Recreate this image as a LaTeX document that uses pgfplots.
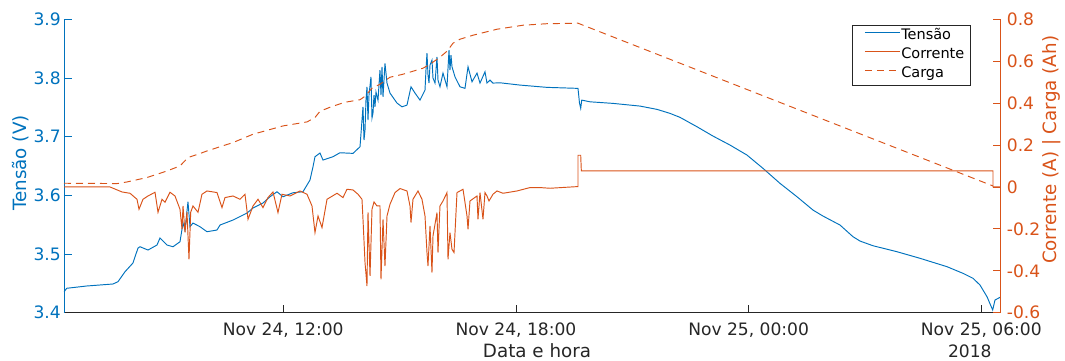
\documentclass[border=0pt]{standalone}
\usepackage{pgfplots}
\pgfplotsset{compat=1.18}
\usepackage{fontspec}
\setmainfont{DejaVu Sans}
\definecolor{mblue}{RGB}{0,114,189}
\definecolor{morange}{RGB}{217,83,25}
\definecolor{mgray}{RGB}{38,38,38}

% Tensão (V) versus hours since Nov 24, 00:00
\pgfplotstableread{
h V
6.35 3.4358
6.416 3.4416
6.931 3.4455
7.609 3.4489
7.738 3.4528
7.919 3.4698
8.125 3.4847
8.254 3.5102
8.306 3.5124
8.512 3.5068
8.744 3.5153
8.821 3.5272
9.002 3.5153
9.157 3.5124
9.337 3.5209
9.415 3.5528
9.466 3.5409
9.543 3.5891
9.595 3.5465
9.672 3.5528
9.853 3.5465
10.033 3.5380
10.291 3.5409
10.369 3.5494
10.704 3.5579
11.065 3.5698
11.220 3.5784
11.477 3.5869
11.658 3.5976
11.838 3.6061
11.993 3.5976
12.251 3.6044
12.509 3.6061
12.689 3.6261
12.767 3.6487
12.818 3.6658
12.947 3.6721
13.025 3.6601
13.282 3.6658
13.462 3.6726
13.798 3.6715
13.979 3.6828
14.056 3.7509
14.082 3.6942
14.108 3.7112
14.133 3.7623
14.159 3.7850
14.185 3.7283
14.211 3.7709
14.262 3.8020
14.288 3.7317
14.314 3.7402
14.340 3.7709
14.365 3.7509
14.391 3.7760
14.443 3.7623
14.494 3.8135
14.520 3.7709
14.546 3.8191
14.572 3.7680
14.623 3.8249
14.675 3.7913
14.752 3.7743
14.933 3.7572
15.062 3.7509
15.190 3.7538
15.294 3.7850
15.397 3.7743
15.526 3.7623
15.655 3.7794
15.680 3.8135
15.706 3.8424
15.732 3.8049
15.758 3.7913
15.784 3.8220
15.835 3.8305
15.861 3.7998
15.913 3.7913
15.964 3.8361
15.990 3.7964
16.041 3.7850
16.119 3.8083
16.222 3.7850
16.274 3.8475
16.299 3.8135
16.325 3.8390
16.351 3.8191
16.428 3.8020
16.557 3.7850
16.686 3.7823
16.764 3.8191
16.867 3.7935
16.996 3.8083
17.073 3.7913
17.202 3.8106
17.253 3.7913
17.331 3.7964
17.408 3.7913
17.589 3.7918
18.104 3.7879
18.801 3.7840
19.600 3.7823
19.639 3.7572
19.670 3.7482
19.696 3.7623
19.909 3.7594
20.503 3.7567
21.199 3.7521
21.637 3.7465
21.972 3.7397
22.230 3.7329
22.668 3.7169
23.081 3.7010
23.519 3.6857
23.958 3.6686
24.370 3.6460
24.809 3.6204
25.247 3.5976
25.660 3.5749
25.917 3.5647
26.356 3.5494
26.691 3.5295
26.872 3.5221
27.207 3.5141
27.826 3.5039
28.419 3.4927
29.115 3.4784
29.527 3.4671
29.785 3.4586
29.966 3.4472
30.147 3.4272
30.293 3.4046
30.353 3.4216
30.482 3.4262
}\tensao

% Corrente (A)
\pgfplotstableread{
h I
6.346 0
7.532 0
7.842 -0.0239
8.048 -0.0301
8.228 -0.0587
8.280 -0.1064
8.383 -0.0587
8.512 -0.0430
8.693 -0.0253
8.770 -0.1208
8.873 -0.0587
8.950 -0.0730
9.079 -0.0253
9.208 -0.0430
9.337 -0.1064
9.389 -0.2019
9.415 -0.0907
9.466 -0.2162
9.518 -0.1208
9.569 -0.3451
9.613 -0.1208
9.672 -0.0907
9.801 -0.1208
9.904 -0.0348
10.033 -0.0191
10.291 -0.0267
10.420 -0.0983
10.498 -0.0506
10.704 -0.0430
10.884 -0.0587
11.013 -0.0348
11.091 -0.1542
11.220 -0.0907
11.349 -0.0587
11.477 -0.0983
11.606 -0.0506
11.735 -0.0239
11.864 -0.1222
11.967 -0.0348
12.174 -0.0430
12.432 -0.0191
12.612 -0.0348
12.741 -0.0907
12.818 -0.2177
12.896 -0.1384
12.999 -0.1938
13.128 -0.0587
13.386 -0.0301
13.540 -0.0506
13.643 -0.0110
13.798 -0.0143
13.927 -0.0348
14.030 -0.0587
14.056 -0.1542
14.108 -0.3609
14.159 -0.4726
14.185 -0.1208
14.237 -0.4248
14.288 -0.1064
14.340 -0.0716
14.417 -0.0907
14.494 -0.0907
14.520 -0.4406
14.572 -0.1542
14.623 -0.3771
14.675 -0.1384
14.752 -0.0826
14.881 -0.0267
15.010 -0.0076
15.190 -0.0191
15.268 -0.0907
15.294 -0.1699
15.345 -0.0587
15.474 -0.0191
15.577 -0.0587
15.655 -0.1384
15.706 -0.3131
15.732 -0.3771
15.784 -0.1862
15.835 -0.4086
15.861 -0.2339
15.964 -0.1222
15.990 -0.3131
16.041 -0.0907
16.119 -0.0668
16.222 -0.0267
16.248 -0.3451
16.299 -0.2177
16.351 -0.2974
16.403 -0.3131
16.480 -0.0267
16.557 -0.0191
16.635 -0.0110
16.738 -0.1384
16.764 -0.2019
16.815 -0.0668
16.996 -0.0430
17.021 -0.1542
17.073 -0.0267
17.150 -0.1542
17.202 -0.0267
17.253 -0.0430
17.305 -0.0668
17.408 -0.0348
17.511 -0.0191
17.666 -0.0301
18.027 -0.0191
18.362 -0.0029
18.620 -0.0029
18.878 -0.0062
19.600 0.0019
19.600 0.1513
19.670 0.1513
19.686 0.0764
30.301 0.0764
30.301 0
30.482 0
}\corrente

% Carga (Ah)
\pgfplotstableread{
h Q
6.346 0.0177
7.713 0.0162
7.971 0.0239
8.486 0.0449
9.002 0.0764
9.337 0.1002
9.543 0.1403
9.801 0.1561
10.033 0.1718
10.704 0.2119
11.220 0.2516
11.993 0.2912
12.612 0.3103
12.818 0.3313
12.947 0.3613
13.205 0.3804
13.592 0.4043
13.979 0.4162
14.108 0.4329
14.288 0.4711
14.494 0.4902
14.752 0.5236
15.087 0.5379
15.603 0.5666
15.784 0.5857
16.041 0.6191
16.222 0.6477
16.377 0.6859
16.557 0.7050
16.893 0.7241
17.511 0.7527
18.182 0.7718
18.801 0.7790
19.600 0.7814
30.301 0.0048
}\carga

\begin{document}
\begin{tikzpicture}
\pgfplotsset{
  twin/.style={
    width=936.7pt, height=293.4pt, scale only axis,
    xmin=6.346, xmax=30.50,
    tick align=inside, major tick length=8pt,
    /pgf/number format/assume math mode=true,
    tick label style={font=\fontsize{17.1}{20}\selectfont},
    label style={font=\fontsize{18.3}{21}\selectfont},
    clip=false,
  }
}
\begin{axis}[twin,
  axis x line*=bottom, axis y line*=left,
  ymin=3.4, ymax=3.9,
  ytick={3.4,3.5,3.6,3.7,3.8,3.9},
  yticklabels={3.4,3.5,3.6,3.7,3.8,3.9},
  xtick={12,18,24,30},
  xticklabels={{Nov 24, 12:00},{Nov 24, 18:00},{Nov 25, 00:00},{Nov 25, 06:00}},
  x axis line style={mgray, line width=0.8pt},
  xtick style={mgray, line width=0.8pt},
  xticklabel style={text=mgray, inner sep=0pt, yshift=-10pt},
  y axis line style={mblue, line width=0.8pt},
  ytick style={mblue, line width=0.8pt},
  yticklabel style={text=mblue, inner sep=0pt, xshift=-3pt},
  xlabel={Data e hora},
  xlabel style={text=mgray, at={(axis description cs:0.505,0)}, anchor=north, inner sep=0pt, yshift=-30.5pt},
  ylabel={Tensão (V)},
  ylabel style={text=mblue, at={(axis description cs:-0.0459,0.51)}, anchor=center},
]
\addplot[mblue, line width=0.95pt] table[x=h, y=V] {\tensao};
\coordinate (bl) at (rel axis cs:0,0);
\coordinate (tr) at (rel axis cs:1,1);
\node[anchor=north, inner sep=0pt, text=mgray, font=\fontsize{17.1}{20}\selectfont, yshift=-32pt] at (rel axis cs:0.967,0) {2018};
\end{axis}

\begin{axis}[twin,
  axis x line=none, axis y line*=right,
  ymin=-0.6, ymax=0.8,
  ytick={-0.6,-0.4,-0.2,0,0.2,0.4,0.6,0.8},
  yticklabels={-0.6,-0.4,-0.2,0,0.2,0.4,0.6,0.8},
  y axis line style={morange, line width=0.8pt},
  ytick style={morange, line width=0.8pt},
  yticklabel style={text=morange, inner sep=0pt, xshift=6pt},
  ylabel={Corrente (A) | Carga (Ah)},
  ylabel style={text=morange, at={(axis description cs:1.0544,0.555)}, anchor=center},
  legend cell align=left,
  legend style={at={(0.968,0.981)}, anchor=north east, draw=mgray, line width=0.8pt,
    fill=white, font=\fontsize{14.5}{16}\selectfont,
    inner xsep=5pt, inner ysep=2.3pt, row sep=2.2pt,
    nodes={inner sep=1pt, text height=11pt, text depth=4pt}},
  legend image code/.code={\path (0pt,0pt); \draw[#1, line width=0.95pt] (7pt,4pt) -- (42pt,4pt);},
]
\addlegendimage{mblue}
\addlegendentry{Tensão}
\addplot[morange, line width=0.95pt] table[x=h, y=I] {\corrente};
\addlegendentry{Corrente}
\addplot[morange, line width=0.95pt, dash pattern=on 7pt off 5pt] table[x=h, y=Q] {\carga};
\addlegendentry{Carga}
\end{axis}
\pgfresetboundingbox
\path[use as bounding box] ([xshift=-64pt,yshift=-48.3pt]bl) rectangle ([xshift=64.3pt,yshift=19.3pt]tr);
\end{tikzpicture}
\end{document}
